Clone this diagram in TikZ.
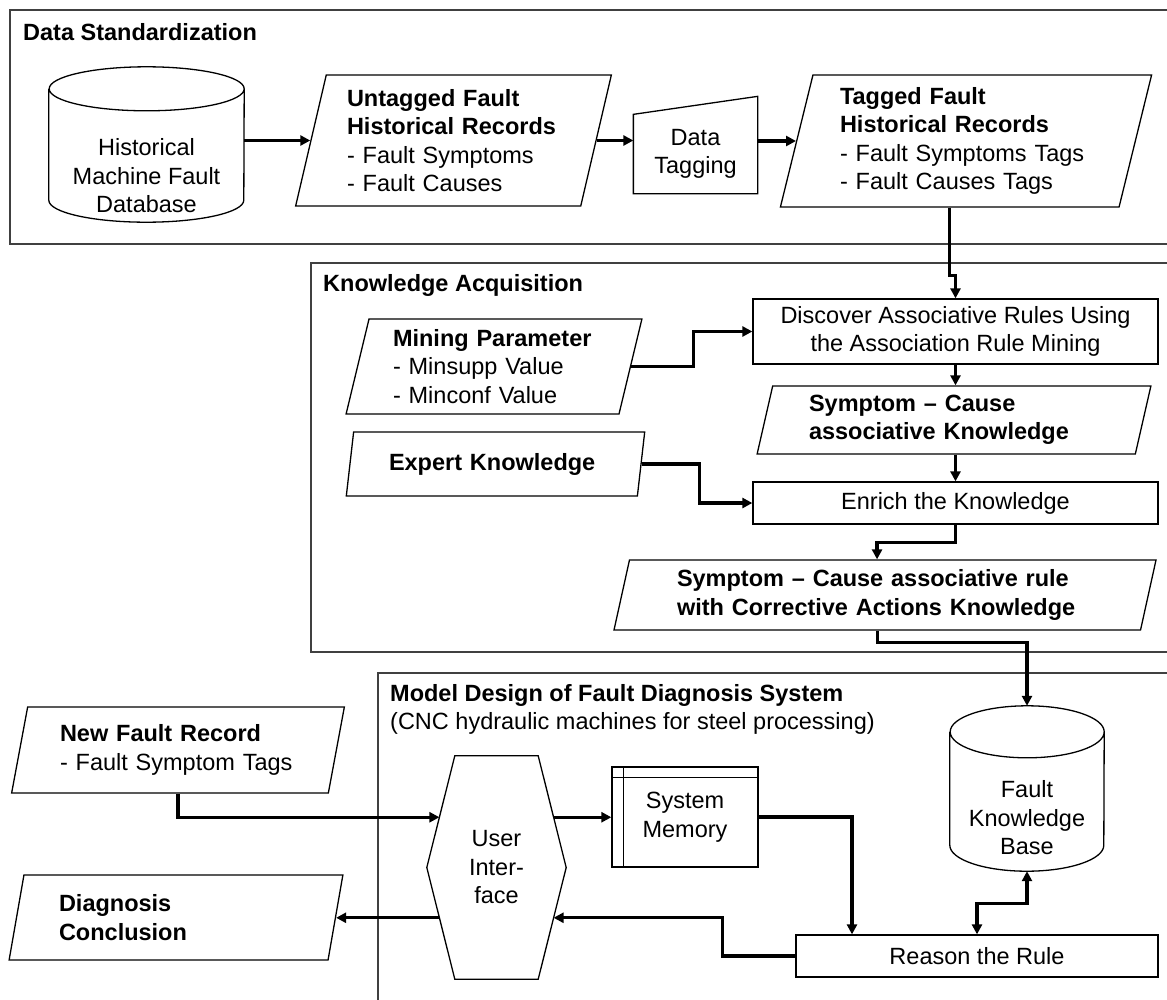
\documentclass[tikz,border=0pt]{standalone}
\usepackage{fontspec}
\setmainfont{Liberation Sans}
\usetikzlibrary{positioning,arrows.meta,shapes.geometric,calc}

\tikzset{
  every node/.style={font=\fontsize{23.5}{28.5}\selectfont},
  frame/.style={draw=black!75,line width=1.6pt},
  title/.style={anchor=west,inner sep=0pt,font=\fontsize{23.5}{28.5}\selectfont\bfseries},
  box/.style={draw,line width=1.3pt,inner sep=0pt,align=center},
  data/.style={draw,line width=1.3pt,trapezium,trapezium left angle=76,trapezium right angle=104,
    trapezium stretches=true,inner sep=0pt,align=left},
  outline/.style={line width=1.3pt},
  flow/.style={line width=3.2pt,>={Triangle[length=10pt,width=10pt]},->},
}

\begin{document}
\begin{tikzpicture}[x=1pt,y=-1pt]
  \useasboundingbox (0,0) rectangle (1167,999);
  \clip (0,0) rectangle (1167,999);

  % the three stages
  \draw[frame] (10,10) rectangle (1180,244);
  \draw[frame] (311,263) rectangle (1180,652);
  \draw[frame] (378,673) rectangle (1180,1010);
  \node[title] (dstitle) at (23,32) {Data Standardization};
  \node[title] (katitle) at (323,285) {Knowledge Acquisition};
  \node[title] (mdtitle) at (390,695) {Model Design of Fault Diagnosis System};
  \node[anchor=west,inner sep=0pt] (mdsub) at (390,723) {(CNC hydraulic machines for steel processing)};

  % data standardization
  \node[minimum width=195pt,minimum height=155pt,inner sep=0pt] (db) at (146.5,144.5) {};
  \draw[outline] ([yshift=-22pt]db.north west) -- ([yshift=22pt]db.south west)
    arc[start angle=180,end angle=360,x radius=97.5pt,y radius=22pt]
    -- ([yshift=-22pt]db.north east)
    arc[start angle=0,end angle=360,x radius=97.5pt,y radius=22pt];
  \node[align=center] (dbtext) at ([yshift=-31.5pt]db.center) {Historical\\Machine Fault\\Database};

  \node[data,text width=213pt,minimum width=317pt,minimum height=131pt] (untag) at (453.5,140.5)
    {\textbf{Untagged Fault}\\\textbf{Historical Records}\\- Fault Symptoms\\- Fault Causes};
  \node[box,draw=none,minimum width=123pt,minimum height=78pt] (dtag) at (695.5,154) {Data\\Tagging};
  \draw[outline] (dtag.south west) -- (dtag.north west) -- ([yshift=18pt]dtag.north east)
    -- (dtag.south east) -- cycle;
  \node[data,text width=252pt,minimum width=372pt,minimum height=132pt] (tagged) at (966,141)
    {\textbf{Tagged Fault}\\\textbf{Historical Records}\\- Fault Symptoms Tags\\- Fault Causes Tags};

  % knowledge acquisition
  \node[box,minimum width=405pt,minimum height=65pt] (disc) at (955.5,331.5)
    {Discover Associative Rules Using\\the Association Rule Mining};
  \node[data,text width=202pt,minimum width=296pt,minimum height=95pt] (mine) at (494,366.5)
    {\textbf{Mining Parameter}\\- Minsupp Value\\- Minconf Value};
  \node[data,text width=290pt,minimum width=394pt,minimum height=68pt] (symc) at (954,420)
    {\textbf{Symptom – Cause}\\\textbf{associative Knowledge}};
  \node[data,text width=213pt,minimum width=299pt,minimum height=64pt] (expert) at (495.5,464)
    {\textbf{Expert Knowledge}};
  \node[box,minimum width=405pt,minimum height=42pt] (enrich) at (955.5,503) {Enrich the Knowledge};
  \node[data,text width=416pt,minimum width=544pt,minimum height=70pt] (rule) at (885,595)
    {\textbf{Symptom – Cause associative rule}\\\textbf{with Corrective Actions Knowledge}};

  % model design
  \node[data,text width=236pt,minimum width=334pt,minimum height=86pt] (newrec) at (178,750)
    {\textbf{New Fault Record}\\- Fault Symptom Tags};
  \node[data,text width=234pt,minimum width=334pt,minimum height=85pt] (diag) at (176,917.5)
    {\textbf{Diagnosis}\\\textbf{Conclusion}};
  \node[minimum width=139pt,minimum height=223pt,inner sep=0pt,align=center] (ui) at (496.5,867.5)
    {User\\Inter-\\face};
  \draw[outline] (ui.west) -- ([xshift=28pt]ui.north west) coordinate (uinw)
    -- ([xshift=-28pt]ui.north east) coordinate (uine) -- (ui.east)
    -- ([xshift=-28pt]ui.south east) coordinate (uise)
    -- ([xshift=28pt]ui.south west) coordinate (uisw) -- cycle;
  \coordinate (uiA) at ($(ui.west)!.45!(uinw)$);
  \coordinate (uiB) at ($(ui.east)!.45!(uine)$);
  \coordinate (uiC) at ($(ui.west)!.45!(uisw)$);
  \coordinate (uiD) at ($(ui.east)!.45!(uise)$);
  \node[box,minimum width=146pt,minimum height=100pt] (mem) at (685,817) {System\\Memory};
  \draw[line width=1pt] ([xshift=12pt]mem.north west) -- ([xshift=12pt]mem.south west)
    ([yshift=-11pt]mem.north west) -- ([yshift=-11pt]mem.north east);
  \node[minimum width=154pt,minimum height=165pt,inner sep=0pt] (kb) at (1027,788.5) {};
  \draw[outline] ([yshift=-26pt]kb.north west) -- ([yshift=26pt]kb.south west)
    arc[start angle=180,end angle=360,x radius=77pt,y radius=26pt]
    -- ([yshift=-26pt]kb.north east)
    arc[start angle=0,end angle=360,x radius=77pt,y radius=26pt];
  \node[align=center] (kbtext) at ([yshift=-29.5pt]kb.center) {Fault\\Knowledge\\Base};
  \node[box,minimum width=362pt,minimum height=42pt] (reason) at (977,956) {Reason the Rule};

  % connectors
  \draw[flow] (untag.west -| db.east) -- (untag.west);
  \draw[flow] (untag.east) -- (untag.east -| dtag.west);
  \draw[flow] (tagged.west -| dtag.east) -- (tagged.west);
  \draw[flow] (tagged.bottom side) -- ++(0,68) -| (disc.north);
  \draw[flow] (mine.east) -- ++(62,0) |- (disc.west);
  \draw[flow] (disc.south) -- (disc.south |- symc.north);
  \draw[flow] (symc.south -| enrich.north) -- (enrich.north);
  \draw[flow] (expert.east) -- ++(58,0) |- (enrich.west);
  \draw[flow] (enrich.south) -- ++(0,18) -| ([xshift=-8pt]rule.north);
  \draw[flow] (rule.bottom side) -- ++(0,12) -| (kb.north);
  \draw[flow] (newrec.south) |- (uiA);
  \draw[flow] (uiB) -- (uiB -| mem.west);
  \draw[flow] (mem.east) -| ([xshift=-125pt]reason.north);
  \draw[flow] (reason.west) -- ++(-73,0) |- (uiD);
  \draw[flow] (uiC) -- (uiC -| diag.east);
  \draw[flow,<->] (reason.north) -- ++(0,-31) -| (kb.south);
\end{tikzpicture}
\end{document}
